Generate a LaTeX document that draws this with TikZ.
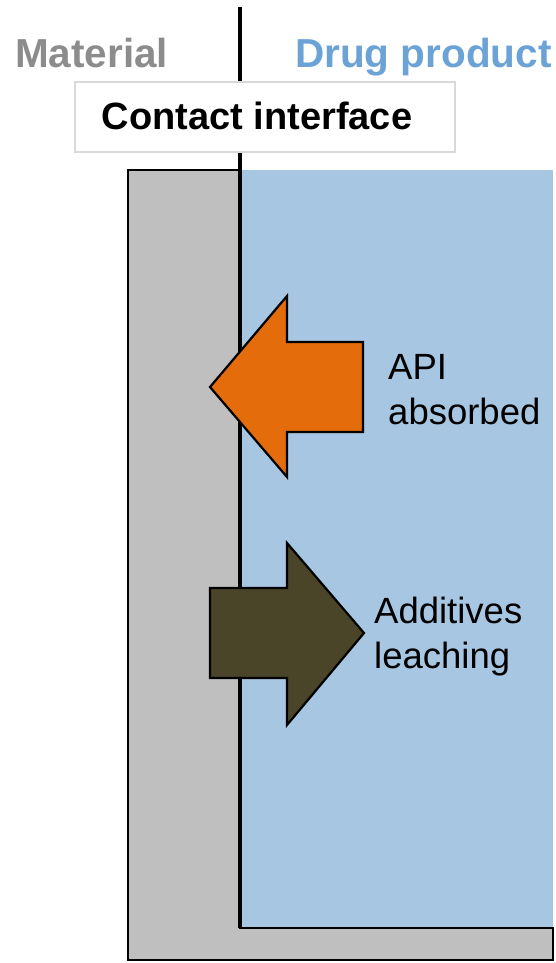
\documentclass[tikz,border=0pt]{standalone}
\usepackage{fontspec}
\setmainfont{Liberation Sans}
\definecolor{matgray}{HTML}{BFBFBF}
\definecolor{prodblue}{HTML}{A6C6E2}
\definecolor{apiorange}{HTML}{E46C0A}
\definecolor{leachdark}{HTML}{4A4529}
\definecolor{mattext}{HTML}{8C8C8C}
\definecolor{prodtext}{HTML}{6CA3D6}
\definecolor{boxborder}{HTML}{D9D9D9}
\tikzset{
  toplabel/.style={inner sep=0pt, font=\bfseries\fontsize{40.5}{45}\selectfont},
  sidelabel/.style={inner sep=0pt, anchor=base west, align=left, font=\fontsize{36.5}{45}\selectfont},
  arrowshape/.style={draw=black, line width=2.2pt, line join=miter},
  outline/.style={draw=black, line width=2.5pt, line join=miter},
}
\begin{document}
\begin{tikzpicture}[x=1pt,y=-1pt]
\useasboundingbox (0,0) rectangle (556,963);
% regions
\fill[prodblue] (240,170) rectangle (553,928);
\path[fill=matgray, outline] (128,170) -- (240,170) -- (240,928) -- (553,928) -- (553,960) -- (128,960) -- cycle;
% interface line
\coordinate (itop) at (240,7);
\coordinate (ibot) at (240,928);
\draw[line width=3.3pt] (itop) -- (ibot);
% labels
\node[toplabel, text=mattext, anchor=base west] (mat) at (15,68) {Material};
\node[toplabel, text=prodtext, anchor=base west] (prod) at (295,68) {Drug product};
% contact interface box
\node[draw=boxborder, line width=2pt, fill=white, minimum width=380pt, minimum height=70pt, inner sep=0pt] (box) at (265,117) {};
\node[inner sep=0pt, anchor=base, font=\bfseries\fontsize{38}{45}\selectfont] (boxtext) at (257,130) {Contact interface};
% arrows
\path[fill=apiorange, arrowshape] (210,387) -- (287,296) -- (287,342) -- (363,342) -- (363,432) -- (287,432) -- (287,477) -- cycle;
\path[fill=leachdark, arrowshape] (210,588) -- (287,588) -- (287,543) -- (364,633) -- (287,725) -- (287,678) -- (210,678) -- cycle;
% side labels (anchored at the baseline of the last line)
\node[sidelabel] (api) at (388,424) {API\\absorbed};
\node[sidelabel] (add) at (374,668) {Additives\\leaching};
\end{tikzpicture}
\end{document}
